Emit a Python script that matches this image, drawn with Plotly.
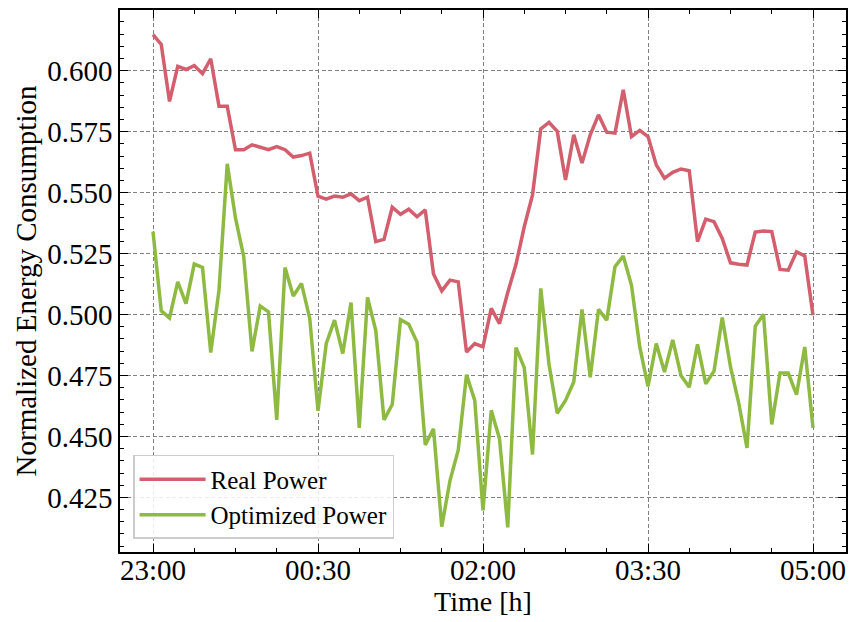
import pandas as pd
import plotly.graph_objects as go

# ---- data ----
start_time = "2023-01-01 23:00"
step_seconds = 270  # 4.5 minute sampling

real_power = [
    0.6148, 0.6108, 0.5874, 0.6018, 0.6005, 0.6021, 0.5988, 0.6049, 0.5854, 0.5854,
    0.5676, 0.5676, 0.5696, 0.5685, 0.5676, 0.5689, 0.5676, 0.5646, 0.5652, 0.5662,
    0.5485, 0.5473, 0.5486, 0.5481, 0.5495, 0.5467, 0.5481, 0.5299, 0.5308, 0.5440,
    0.5411, 0.5432, 0.5401, 0.5429, 0.5166, 0.5097, 0.5141, 0.5134, 0.4846, 0.4881,
    0.4867, 0.5025, 0.4963, 0.5090, 0.5206, 0.5360, 0.5490, 0.5761, 0.5788, 0.5751,
    0.5552, 0.5737, 0.5621, 0.5737, 0.5819, 0.5748, 0.5744, 0.5922, 0.5730, 0.5755,
    0.5730, 0.5614, 0.5559, 0.5583, 0.5597, 0.5590, 0.5299, 0.5391, 0.5381, 0.5312,
    0.5212, 0.5206, 0.5203, 0.5338, 0.5343, 0.5340, 0.5185, 0.5182, 0.5257, 0.5240,
    0.4997,
]

optimized_power = [
    0.5340, 0.5015, 0.4986, 0.5134, 0.5045, 0.5207, 0.5193, 0.4844, 0.5100, 0.5618,
    0.5395, 0.5237, 0.4849, 0.5035, 0.5011, 0.4568, 0.5193, 0.5076, 0.5127, 0.4984,
    0.4605, 0.4881, 0.4977, 0.4840, 0.5049, 0.4535, 0.5070, 0.4935, 0.4568, 0.4631,
    0.4979, 0.4960, 0.4887, 0.4465, 0.4531, 0.4130, 0.4319, 0.4445, 0.4753, 0.4648,
    0.4197, 0.4607, 0.4490, 0.4127, 0.4864, 0.4782, 0.4426, 0.5107, 0.4796, 0.4595,
    0.4648, 0.4723, 0.5021, 0.4743, 0.5021, 0.4977, 0.5196, 0.5240, 0.5120, 0.4867,
    0.4705, 0.4881, 0.4764, 0.4896, 0.4750, 0.4702, 0.4878, 0.4716, 0.4768, 0.4988,
    0.4785, 0.4637, 0.4453, 0.4952, 0.5001, 0.4549, 0.4760, 0.4760, 0.4671, 0.4867,
    0.4535,
]

x_tick_times = ["2023-01-01 23:00", "2023-01-02 00:30", "2023-01-02 02:00",
                "2023-01-02 03:30", "2023-01-02 05:00"]
x_range = ["2023-01-01 22:42", "2023-01-02 05:18"]
y_tick_vals = [0.425, 0.450, 0.475, 0.500, 0.525, 0.550, 0.575, 0.600]
y_range = [0.4026, 0.6249]

times = pd.date_range(start=start_time, periods=len(real_power), freq=f"{step_seconds}s")

RED = "#D35E6E"
GREEN = "#8EBA42"
FONT = "Liberation Serif"

fig = go.Figure()
fig.add_trace(go.Scatter(x=times, y=real_power, mode="lines", name="Real Power",
                         line=dict(color=RED, width=3.5), legendgroup="a"))
fig.add_trace(go.Scatter(x=times, y=optimized_power, mode="lines", name="Optimized Power",
                         line=dict(color=GREEN, width=3.5), legendgroup="b"))

axis_common = dict(
    showline=True, linecolor="black", linewidth=1.5, mirror="allticks",
    ticks="inside", ticklen=8, tickwidth=1.3, tickcolor="black",
    showgrid=True, gridcolor="#808080", gridwidth=1, griddash="4px,2.5px",
    zeroline=False,
    tickfont=dict(family=FONT, size=29, color="black"),
)

fig.update_xaxes(
    **axis_common,
    type="date", range=x_range,
    tickvals=x_tick_times, tickformat="%H:%M",
    ticklabelposition="outside", ticklabelstandoff=-9,
    minor=dict(dtick=1350000, tick0=start_time, ticks="inside", ticklen=4,
               tickwidth=1.2, tickcolor="black", showgrid=False),
    title=dict(text="Time [h]", font=dict(family=FONT, size=28, color="black"), standoff=4),
)
fig.update_yaxes(
    **axis_common,
    range=y_range, tickvals=y_tick_vals, tickformat=".3f",
    minor=dict(dtick=0.005, tick0=0.4, ticks="inside", ticklen=4,
               tickwidth=1.2, tickcolor="black", showgrid=False),
    title=dict(text="Normalized Energy Consumption", font=dict(family=FONT, size=29, color="black"),
               standoff=2),
)

fig.update_layout(
    width=862, height=622,
    margin=dict(l=120, r=16, t=10, b=70, autoexpand=False),
    paper_bgcolor="white", plot_bgcolor="white",
    font=dict(family=FONT, color="black"),
    legend=dict(
        x=0.018, y=0.024, xanchor="left", yanchor="bottom",
        bgcolor="rgba(255,255,255,0.85)", bordercolor="#cccccc", borderwidth=1.5,
        font=dict(family=FONT, size=25, color="black"),
        itemwidth=66, tracegroupgap=0,
    ),
    showlegend=True,
)

fig.write_html("out.html")
